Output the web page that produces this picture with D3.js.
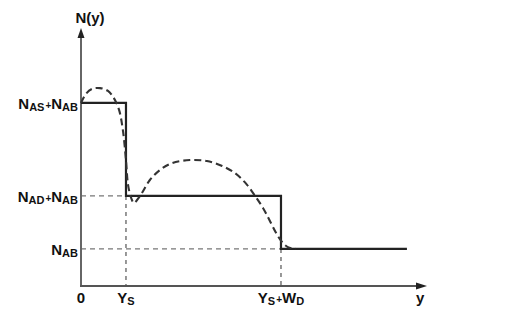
<!DOCTYPE html>
<html>
<head>
<meta charset="utf-8">
<script src="https://cdn.jsdelivr.net/npm/d3@7"></script>
<style>
  body { margin: 0; background: #fff; }
  text { font-family: "Liberation Sans", Arial, sans-serif; fill: #111; }
</style>
</head>
<body>
<script>
// --- Data (abstract units: x 0..100, y 0..100) ---
const xMarks = [0, 13, 57.8];               // 0, Ys, Ys+Wd
const xMarkLabels = [[["0", 0]], [["Y", 0], ["S", 1]], [["Y", 0], ["S", 1], ["+", 2], ["W", 0], ["D", 1]]];
const yLevels = [14.5, 35.2, 71.5];          // NAB, NAD+NAB, NAS+NAB
const yLevelLabels = [
    [["N", 0], ["AB", 1]],
    [["N", 0], ["AD", 1], ["+", 2], ["N", 0], ["AB", 1]],
    [["N", 0], ["AS", 1], ["+", 2], ["N", 0], ["AB", 1]]
];
const stepX = [0, 13, 13, 57.8, 57.8, 94.2];
const stepY = [71.5, 71.5, 35.2, 35.2, 14.5, 14.5];
const curveX = [0, 1.4, 3.2, 5.5, 7.8, 9.5, 11, 12.1, 13, 13.6, 14.5, 15.3, 16.2, 17.6, 19.9, 22.8, 26.3, 31.5, 36.4, 40.8, 44.8, 48, 50.3, 52.6, 54.6, 56.4, 58.1, 59.8, 62.1];
const curveY = [71.5, 75, 77, 77.3, 76.2, 73.4, 68.8, 60.9, 49.2, 39.5, 34.4, 32.4, 33.6, 36.3, 41.4, 45.3, 48, 49.2, 48.8, 46.9, 43.8, 39.5, 35.2, 30.5, 25.4, 20.7, 17.2, 15.2, 14.5];

// --- SVG Setup ---
const width = 528, height = 312;
const svg = d3.select("body").append("svg")
    .attr("width", width)
    .attr("height", height);

// Scales
const x = d3.scaleLinear().domain([0, 100]).range([81, 427]);
const y = d3.scaleLinear().domain([0, 100]).range([286, 30]);

// Guide lines (dashed gray)
yLevels.slice(0, 2).forEach((v, i) => {
    const xEnd = i === 0 ? xMarks[2] : xMarks[1];
    svg.append("line")
        .attr("x1", x(0)).attr("x2", x(xEnd))
        .attr("y1", y(v)).attr("y2", y(v))
        .attr("stroke", "#777").attr("stroke-width", 1.3)
        .attr("stroke-dasharray", "5,4");
});
[[xMarks[1], yLevels[1]], [xMarks[2], yLevels[0]]].forEach(([mx, my]) => {
    svg.append("line")
        .attr("x1", x(mx)).attr("x2", x(mx))
        .attr("y1", y(my)).attr("y2", y(0))
        .attr("stroke", "#444").attr("stroke-width", 1.1)
        .attr("stroke-dasharray", "4,4");
});

// Axes
svg.append("line")
    .attr("x1", x(0)).attr("x2", x(0))
    .attr("y1", y(0)).attr("y2", y(100) + 6)
    .attr("stroke", "#666").attr("stroke-width", 2);
svg.append("path")
    .attr("d", `M${x(0)},${y(100) - 2} l-3.5,10 l7,0 z`)
    .attr("fill", "#222");
svg.append("line")
    .attr("x1", x(0) - 1).attr("x2", x(100) - 6)
    .attr("y1", y(0)).attr("y2", y(0))
    .attr("stroke", "#555").attr("stroke-width", 2);
svg.append("path")
    .attr("d", `M${x(100)},${y(0)} l-11,-3.5 l0,7 z`)
    .attr("fill", "#222");

// Step profile
const line = d3.line().x(d => x(d[0])).y(d => y(d[1]));
svg.append("path")
    .datum(d3.zip(stepX, stepY))
    .attr("d", line)
    .attr("fill", "none")
    .attr("stroke", "#222")
    .attr("stroke-width", 2.2);

// Dashed real profile
svg.append("path")
    .datum(d3.zip(curveX, curveY))
    .attr("d", line.curve(d3.curveCatmullRom))
    .attr("fill", "none")
    .attr("stroke", "#333")
    .attr("stroke-width", 2.1)
    .attr("stroke-dasharray", "7,4");

// Labels with subscripts (kind: 0 normal, 1 subscript, 2 plus sign)
function subLabel(parts, tx, ty, anchor) {
    const t = svg.append("text")
        .attr("x", tx).attr("y", ty)
        .attr("text-anchor", anchor)
        .style("font-size", "15px")
        .style("font-weight", "bold");
    let shift = 0;
    parts.forEach(([p, kind]) => {
        const target = kind === 1 ? 2 : 0;
        t.append("tspan")
            .attr("font-size", kind === 1 ? "11px" : kind === 2 ? "10px" : "15px")
            .attr("dy", target - shift)
            .attr("dx", kind === 2 ? 1 : 0)
            .text(p);
        shift = target;
    });
    return t;
}

yLevels.forEach((v, i) => {
    subLabel(yLevelLabels[i], x(0) - 3, y(v) + 6, "end");
});
xMarks.forEach((v, i) => {
    subLabel(xMarkLabels[i], x(v), y(0) + 17, "middle");
});

svg.append("text")
    .attr("x", x(0) + 9).attr("y", 23)
    .attr("text-anchor", "middle")
    .style("font-size", "15px")
    .style("font-weight", "bold")
    .text("N(y)");

svg.append("text")
    .attr("x", x(98)).attr("y", y(0) + 17)
    .attr("text-anchor", "middle")
    .style("font-size", "15px")
    .style("font-weight", "bold")
    .text("y");
</script>
</body>
</html>
